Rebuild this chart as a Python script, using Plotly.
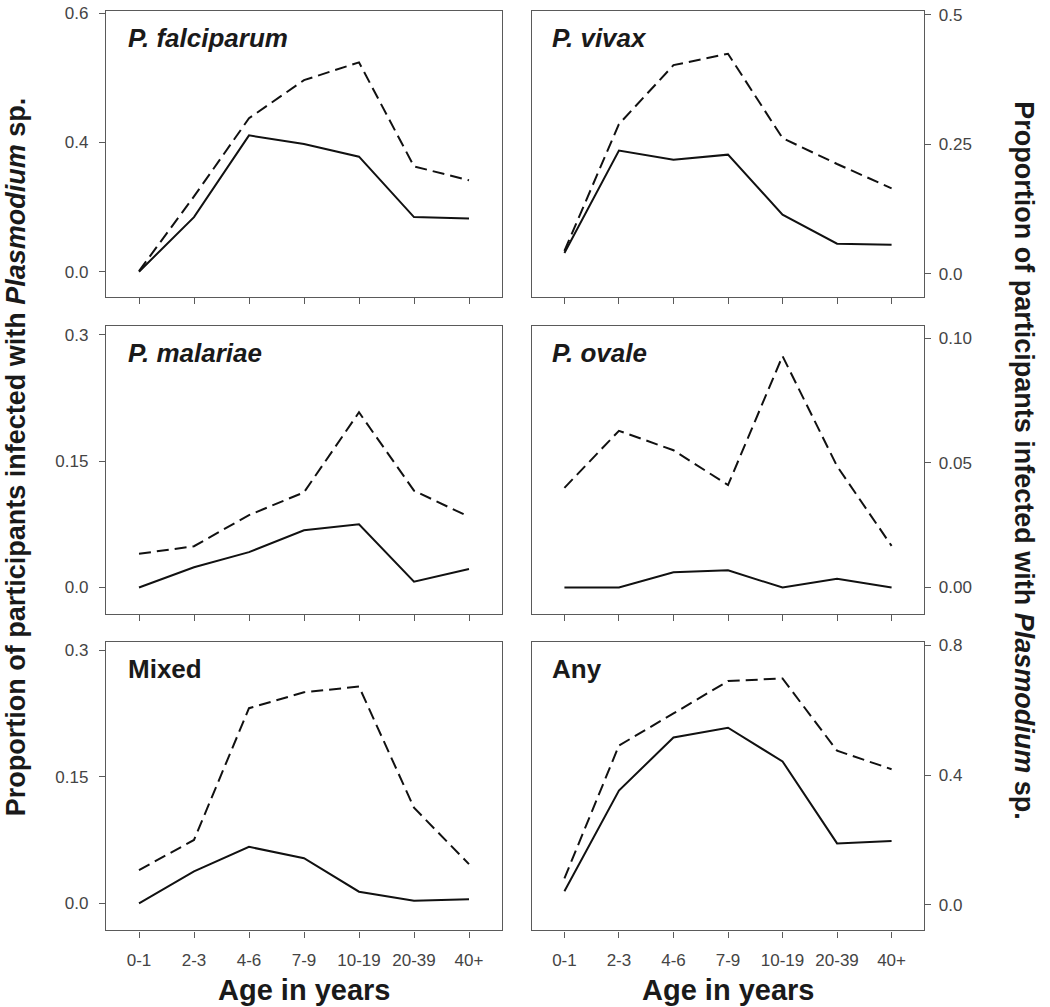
import plotly.graph_objects as go

W, H = 1050, 1007

# ---------------- data ----------------
age_groups = ["0-1", "2-3", "4-6", "7-9", "10-19", "20-39", "40+"]

panel_names = ["<i>P. falciparum</i>", "<i>P. vivax</i>", "<i>P. malariae</i>",
               "<i>P. ovale</i>", "Mixed", "Any"]

falciparum_solid = [0.0, 0.169, 0.422, 0.395, 0.356, 0.169, 0.165]
falciparum_dash = [0.002, 0.233, 0.475, 0.593, 0.648, 0.326, 0.283]

vivax_solid = [0.040, 0.238, 0.220, 0.230, 0.114, 0.058, 0.056]
vivax_dash = [0.044, 0.289, 0.403, 0.425, 0.262, 0.212, 0.165]

malariae_solid = [0.0, 0.024, 0.042, 0.068, 0.075, 0.007, 0.022]
malariae_dash = [0.040, 0.049, 0.086, 0.113, 0.208, 0.115, 0.084]

ovale_solid = [0.0, 0.0, 0.0061, 0.0069, 0.0, 0.0035, 0.0]
ovale_dash = [0.040, 0.0629, 0.0551, 0.0411, 0.0929, 0.0487, 0.0167]

mixed_solid = [0.0, 0.038, 0.067, 0.0535, 0.0138, 0.0031, 0.0047]
mixed_dash = [0.0394, 0.0752, 0.2315, 0.2504, 0.2571, 0.1134, 0.0465]

any_solid = [0.041, 0.352, 0.516, 0.546, 0.442, 0.189, 0.196]
any_dash = [0.081, 0.491, 0.590, 0.690, 0.698, 0.475, 0.418]

solid_series = [falciparum_solid, vivax_solid, malariae_solid, ovale_solid, mixed_solid, any_solid]
dash_series = [falciparum_dash, vivax_dash, malariae_dash, ovale_dash, mixed_dash, any_dash]

ytick_vals = [[0, 0.4, 0.8], [0, 0.25, 0.5], [0, 0.15, 0.3],
              [0, 0.05, 0.1], [0, 0.15, 0.3], [0, 0.4, 0.8]]
ytick_text = [["0.0", "0.4", "0.6"], ["0.0", "0.25", "0.5"], ["0.0", "0.15", "0.3"],
              ["0.00", "0.05", "0.10"], ["0.0", "0.15", "0.3"], ["0.0", "0.4", "0.8"]]
y_ranges = [[-0.079, 0.807], [-0.0456, 0.5077], [-0.0315, 0.310],
            [-0.01065, 0.1048], [-0.0322, 0.3098], [-0.0798, 0.810]]

x_title = "Age in years"
y_title = "Proportion of participants infected with <i>Plasmodium</i> sp."

# ---------------- layout helpers ----------------
def px_x(x):
    return x / W

def px_y(y):
    return 1 - y / H

col_px = [(106, 502), (531.7, 924.3)]
row_px = [(5, 293), (322.3, 611.7), (640, 930)]

FONT = "Liberation Sans, Arial, sans-serif"
BOX = "#5a5a5a"
TICKFONT = dict(family=FONT, size=17, color="#444444")

fig = go.Figure()
layout = dict(
    width=W, height=H,
    margin=dict(l=0, r=0, t=0, b=0),
    paper_bgcolor="white", plot_bgcolor="white",
    showlegend=False,
)
annotations = []

for i in range(6):
    r, c = divmod(i, 2)
    n = i + 1
    xa = "xaxis" if n == 1 else f"xaxis{n}"
    ya = "yaxis" if n == 1 else f"yaxis{n}"
    xref = "x" if n == 1 else f"x{n}"
    yref = "y" if n == 1 else f"y{n}"
    x0, x1 = col_px[c]
    y0, y1 = row_px[r]

    fig.add_trace(go.Scatter(x=age_groups, y=solid_series[i], mode="lines",
                             line=dict(color="#111111", width=2),
                             xaxis=xref, yaxis=yref))
    fig.add_trace(go.Scatter(x=age_groups, y=dash_series[i], mode="lines",
                             line=dict(color="#111111", width=2, dash="12px,6px"),
                             xaxis=xref, yaxis=yref))

    layout[xa] = dict(
        domain=[px_x(x0), px_x(x1)], anchor=yref, type="category",
        range=[-0.6, 6.6], showline=True, mirror=True, linecolor=BOX, linewidth=1.3,
        ticks="outside", ticklen=6, tickcolor=BOX, tickwidth=1.2,
        showgrid=False, zeroline=False, showticklabels=(r == 2),
        tickfont=TICKFONT, ticklabelstandoff=8, fixedrange=True,
    )
    layout[ya] = dict(
        domain=[px_y(y1), px_y(y0)], anchor=xref, side=("left" if c == 0 else "right"),
        range=y_ranges[i], tickvals=ytick_vals[i], ticktext=ytick_text[i],
        showline=True, mirror=True, linecolor=BOX, linewidth=1.3,
        ticks="outside", ticklen=6, tickcolor=BOX, tickwidth=1.2,
        showgrid=False, zeroline=False, tickfont=TICKFONT,
        ticklabelstandoff=(7 if c == 0 else 4), fixedrange=True,
    )

    # panel title
    annotations.append(dict(
        text=f"<b>{panel_names[i]}</b>", xref="paper", yref="paper",
        x=px_x(x0 + (20 if c == 0 else 18)), y=px_y(y0 + 27),
        xanchor="left", yanchor="middle", showarrow=False,
        font=dict(family=FONT, size=26, color="#1a1a1a"),
    ))

# x-axis titles
for c in range(2):
    x0, x1 = col_px[c]
    annotations.append(dict(
        text=f"<b>{x_title}</b>", xref="paper", yref="paper",
        x=px_x((x0 + x1) / 2), y=px_y(990), xanchor="center", yanchor="middle",
        showarrow=False, font=dict(family=FONT, size=29, color="#1a1a1a"),
    ))

# y-axis titles
annotations.append(dict(
    text=f"<b>{y_title}</b>", xref="paper", yref="paper",
    x=px_x(16), y=px_y(454), xanchor="center", yanchor="middle", textangle=-90,
    showarrow=False, font=dict(family=FONT, size=27, color="#1a1a1a"),
))
annotations.append(dict(
    text=f"<b>{y_title}</b>", xref="paper", yref="paper",
    x=px_x(1024), y=px_y(457), xanchor="center", yanchor="middle", textangle=90,
    showarrow=False, font=dict(family=FONT, size=27, color="#1a1a1a"),
))

layout["annotations"] = annotations
fig.update_layout(**layout)
fig.write_html(
    "out.html",
    config={"displayModeBar": False},
    post_script="document.body.style.margin='0';document.body.style.overflow='hidden';",
)
